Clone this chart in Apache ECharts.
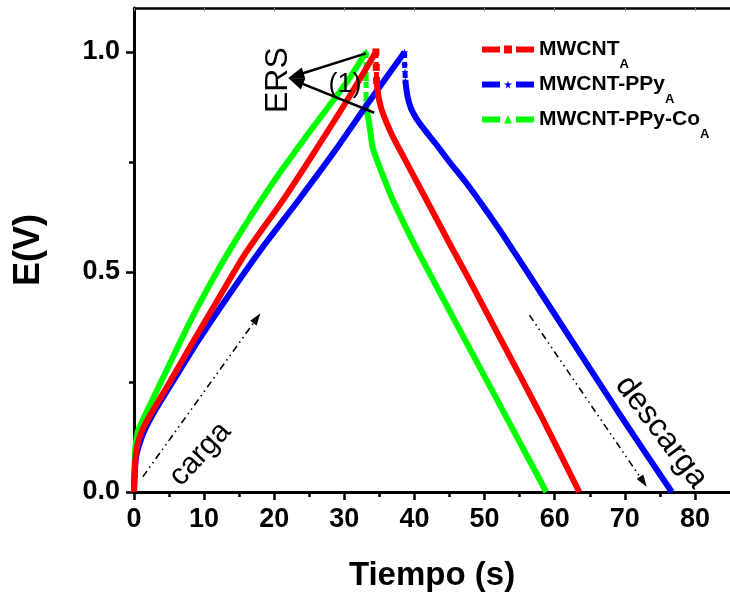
<!DOCTYPE html>
<html><head><meta charset="utf-8">
<script src="https://cdn.jsdelivr.net/npm/echarts@6/dist/echarts.min.js"></script>
<style>html,body{margin:0;padding:0;background:#fff}#c{width:730px;height:601px}</style>
</head><body><div id="c"></div>
<script>
// ---------- data ----------
const seriesNames = ['MWCNT', 'MWCNT-PPy', 'MWCNT-PPy-Co'];
const seriesSub = ['A', 'A', 'A'];
const seriesColors = ['#ff0000', '#0000ff', '#00ff00'];
const xMajorTicks = [0, 10, 20, 30, 40, 50, 60, 70, 80];
const xMinorTicks = [5, 15, 25, 35, 45, 55, 65, 75];
const yMajorTicks = [0.0, 0.5, 1.0];
const yMinorTicks = [0.25, 0.75];

// MWCNT_A (red)
const redCharge = [[0,0],[0.1,0.05],[0.3,0.09],[0.7,0.12],[1.3,0.145],[2.5,0.18],[3.8,0.215],[5.1,0.25],[8,0.33],[11.7,0.43],[16,0.545],[21.1,0.66],[25.5,0.767],[30,0.88],[34.5,1.0]];
const redDrop = [[34.5,1.0],[34.55,0.965],[34.6,0.935]];
const redDischarge = [[34.6,0.935],[34.8,0.905],[35.2,0.875],[36.0,0.84],[37.0,0.805],[38.5,0.76],[40.5,0.70],[43,0.625],[45.5,0.55],[48,0.477],[52.2,0.35],[58,0.175],[63.5,0]];

// MWCNT-PPy_A (blue)
const blueCharge = [[0,0],[0.1,0.04],[0.3,0.08],[0.8,0.11],[1.5,0.14],[3,0.185],[5.5,0.25],[9,0.34],[12.9,0.433],[18,0.549],[23.4,0.662],[28.5,0.772],[33.3,0.882],[38.6,1.0]];
const blueDrop = [[38.6,1.0],[38.6,0.971],[38.65,0.955],[38.7,0.935]];
const blueDischarge = [[38.7,0.935],[39.0,0.90],[39.5,0.872],[40.3,0.848],[41.5,0.822],[43.0,0.792],[45,0.75],[47.5,0.70],[50,0.645],[52.6,0.585],[57.3,0.47],[62,0.355],[69,0.183],[76.7,0]];

// MWCNT-PPy-Co_A (green)
const greenCharge = [[0,0],[0.1,0.07],[0.25,0.11],[0.6,0.14],[1.5,0.172],[2.7,0.212],[4,0.255],[5.5,0.305],[7,0.355],[8.9,0.415],[12,0.505],[15,0.585],[17.8,0.655],[21,0.73],[24.5,0.807],[27.7,0.875],[30.5,0.935],[33.1,1.0]];
const greenDrop = [[33.1,1.0],[33.1,0.942],[33.1,0.896],[33.12,0.875]];
const greenDischarge = [[33.12,0.875],[33.4,0.85],[33.7,0.82],[34.0,0.785],[34.8,0.748],[35.8,0.707],[36.9,0.664],[38.6,0.607],[40.4,0.55],[44,0.442],[47,0.352],[52,0.203],[58.8,0]];

const chargeData = [redCharge, blueCharge, greenCharge];
const dropData = [redDrop, blueDrop, greenDrop];
const dischargeData = [redDischarge, blueDischarge, greenDischarge];

// ---------- styling ----------
const FONT = '"Liberation Sans", Arial, sans-serif';
const starPath = 'path://M50,0 L61,35 L98,35 L68,57 L79,91 L50,70 L21,91 L32,57 L2,35 L39,35 Z';
const symbols = ['rect', starPath, 'triangle'];

const chart = echarts.init(document.getElementById('c'), null, {renderer: 'canvas'});

const series = [];
for (let i = 0; i < 3; i++) {
  series.push({
    name: seriesNames[i], type: 'line', data: chargeData[i],
    symbol: symbols[i], symbolSize: 8, showSymbol: false, smooth: 0.25,
    lineStyle: {color: seriesColors[i], width: 6}, itemStyle: {color: seriesColors[i]},
    emphasis: {disabled: true}, z: 3 - i
  });
  series.push({
    name: seriesNames[i], type: 'line', data: dropData[i],
    symbol: symbols[i], symbolSize: 7, showSymbol: true, smooth: false,
    lineStyle: {color: seriesColors[i], width: 5, type: [6, 4]}, itemStyle: {color: seriesColors[i]},
    emphasis: {disabled: true}, z: 3 - i
  });
  series.push({
    name: seriesNames[i], type: 'line', data: dischargeData[i],
    symbol: symbols[i], showSymbol: false, smooth: 0.25,
    lineStyle: {color: seriesColors[i], width: 6}, itemStyle: {color: seriesColors[i]},
    emphasis: {disabled: true}, z: 3 - i
  });
}

const axisLineStyle = {color: '#000', width: 3};
const option = {
  animation: false,
  backgroundColor: '#fff',
  grid: {left: 134, top: 8, right: -6, bottom: 109, containLabel: false},
  legend: {
    orient: 'vertical', left: 474, top: 34, itemGap: 3.5,
    itemWidth: 52, itemHeight: 10,
    data: seriesNames,
    lineStyle: {width: 6, type: [18, 16]},
    formatter: function (name) {
      const i = seriesNames.indexOf(name);
      return '{m|' + name + '}{s|' + seriesSub[i] + '}';
    },
    textStyle: {
      rich: {
        m: {fontFamily: FONT, fontWeight: 'bold', fontSize: 21, color: '#000', lineHeight: 42},
        s: {fontFamily: FONT, fontWeight: 'bold', fontSize: 13, color: '#000', lineHeight: 13, verticalAlign: 'bottom'}
      }
    }
  },
  xAxis: [
    {
      type: 'value', min: 0, max: 85, position: 'bottom', gridIndex: 0,
      name: 'Tiempo (s)', nameLocation: 'middle', nameGap: 67,
      nameTextStyle: {fontFamily: FONT, fontWeight: 'bold', fontSize: 33, color: '#000'},
      axisLine: {show: true, onZero: false, lineStyle: axisLineStyle},
      axisTick: {show: true, inside: false, length: 8, customValues: xMajorTicks, lineStyle: {color: '#000', width: 2.5}},
      axisLabel: {show: true, margin: 14, customValues: xMajorTicks, fontFamily: FONT, fontWeight: 'bold', fontSize: 27, color: '#000',
                  formatter: v => String(v)},
      splitLine: {show: false}
    },
    {
      type: 'value', min: 0, max: 85, position: 'bottom', gridIndex: 0,
      axisLine: {show: false, onZero: false},
      axisTick: {show: true, inside: false, length: 5, customValues: xMinorTicks, lineStyle: {color: '#000', width: 2.5}},
      axisLabel: {show: false}, splitLine: {show: false}
    },
    {
      type: 'value', min: 0, max: 85, position: 'top', gridIndex: 0,
      axisLine: {show: true, onZero: false, lineStyle: {color: '#000', width: 2.5}},
      axisTick: {show: true, inside: true, length: 3, customValues: xMajorTicks, lineStyle: {color: '#888', width: 1}},
      axisLabel: {show: false}, splitLine: {show: false}
    }
  ],
  yAxis: [
    {
      type: 'value', min: 0, max: 1.1, position: 'left', gridIndex: 0,
      name: 'E(V)', nameLocation: 'middle', nameGap: 87, nameRotate: 90,
      nameTextStyle: {fontFamily: FONT, fontWeight: 'bold', fontSize: 36, color: '#000'},
      axisLine: {show: true, onZero: false, lineStyle: axisLineStyle},
      axisTick: {show: true, inside: false, length: 8, customValues: yMajorTicks, lineStyle: {color: '#000', width: 2.5}},
      axisLabel: {show: true, margin: 14, customValues: yMajorTicks, fontFamily: FONT, fontWeight: 'bold', fontSize: 27, color: '#000',
                  formatter: v => v.toFixed(1)},
      splitLine: {show: false}
    },
    {
      type: 'value', min: 0, max: 1.1, position: 'left', gridIndex: 0,
      axisLine: {show: false, onZero: false},
      axisTick: {show: true, inside: false, length: 5, customValues: yMinorTicks, lineStyle: {color: '#000', width: 2.5}},
      axisLabel: {show: false}, splitLine: {show: false}
    }
  ],
  series: series
};
chart.setOption(option);

// ---------- annotations (positions in data coordinates) ----------
const annot = {
  ersTip: [22.0, 0.941], ersFrom1: [33.09, 0.997], ersFrom2: [34.28, 0.862],
  ersText: [20.6, 0.936], oneText: [30.1, 0.925],
  cargaText: [9.44, 0.086], descargaText: [75.2, 0.136],
  cargaFrom: [1.27, 0.035], cargaTo: [18.03, 0.406],
  descFrom: [56.4, 0.402], descTo: [73.12, 0.012]
};
const P = (d) => chart.convertToPixel({xAxisIndex: 0, yAxisIndex: 0}, d);

function arrow(from, to, dash, width, headLen, headW) {
  const a = P(from), b = P(to);
  const dx = b[0] - a[0], dy = b[1] - a[1];
  const L = Math.sqrt(dx * dx + dy * dy);
  const ux = dx / L, uy = dy / L, nx = -uy, ny = ux;
  const bx = b[0] - ux * headLen, by = b[1] - uy * headLen;
  return [
    {type: 'line', silent: true, z: 50,
     shape: {x1: a[0], y1: a[1], x2: b[0] - ux * headLen * 0.6, y2: b[1] - uy * headLen * 0.6},
     style: {stroke: '#000', lineWidth: width, lineDash: dash}},
    {type: 'polygon', silent: true, z: 50,
     shape: {points: [[b[0], b[1]], [bx + nx * headW / 2, by + ny * headW / 2], [bx - nx * headW / 2, by - ny * headW / 2]]},
     style: {fill: '#000'}}
  ];
}
function label(text, pos, size, rot) {
  const p = P(pos);
  return {type: 'text', silent: true, z: 50, x: p[0], y: p[1], rotation: rot * Math.PI / 180,
          style: {text: text, fontFamily: FONT, fontSize: size, fill: '#000', align: 'center', verticalAlign: 'middle'}};
}
const graphics = [].concat(
  arrow(annot.ersFrom1, annot.ersTip, null, 2.5, 16, 12),
  arrow(annot.ersFrom2, annot.ersTip, null, 2.5, 16, 12),
  arrow(annot.cargaFrom, annot.cargaTo, [7, 4, 1.5, 4, 1.5, 4], 1.6, 12, 8),
  arrow(annot.descFrom, annot.descTo, [7, 4, 1.5, 4, 1.5, 4], 1.6, 12, 8),
  [label('ERS', annot.ersText, 32, 90),
   label('(1)', annot.oneText, 27, 0),
   label('carga', annot.cargaText, 30, 47),
   label('descarga', annot.descargaText, 32, -53)]
);
chart.setOption({graphic: graphics});
</script>
</body></html>
